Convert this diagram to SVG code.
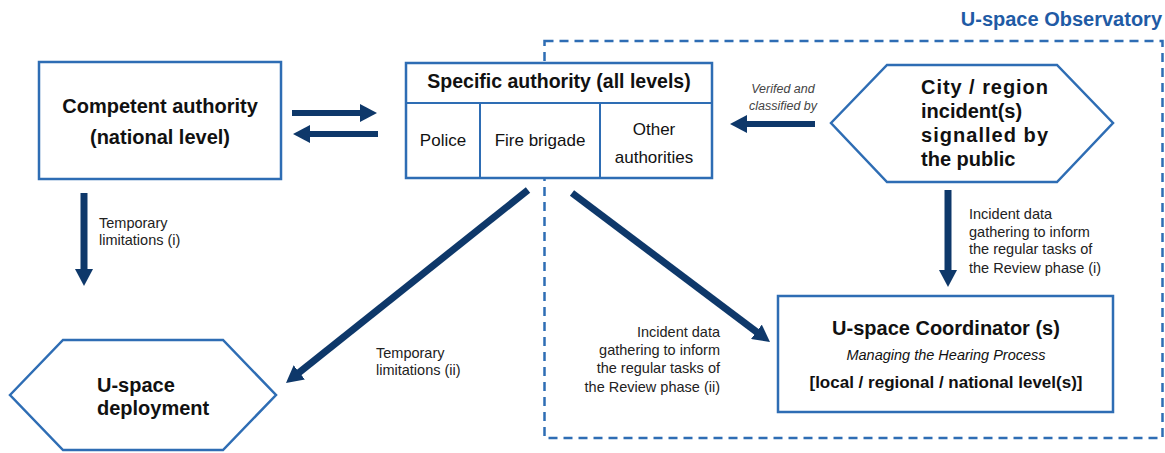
<svg xmlns="http://www.w3.org/2000/svg" width="1165" height="453" viewBox="0 0 1165 453">
<style>
.box{fill:#fff;stroke:#2E6DB4;stroke-width:2.5}
.div{stroke:#2E6DB4;stroke-width:2}
.arr{stroke:#0E386A;fill:none}
.t{font-family:"Liberation Sans",Arial,sans-serif;fill:#111}
.b{font-weight:bold}
.lbl{font-family:"Liberation Sans",Arial,sans-serif;font-size:14.5px;fill:#222}
</style>
<defs>
<marker id="ah" markerUnits="userSpaceOnUse" markerWidth="17" markerHeight="18" viewBox="0 0 17 18" refX="1" refY="9" orient="auto">
<path d="M0,0 L17,9 L0,18 z" fill="#0E386A"/>
</marker>
</defs>
<rect width="1165" height="453" fill="#fff"/>
<g id="observatory">
<rect x="544.5" y="41" width="618" height="397" fill="none" stroke="#2E6DB4" stroke-width="2.5" stroke-dasharray="9 6"/>
<text x="1162" y="26" text-anchor="end" class="t b" style="font-size:20px;fill:#1F5BA5">U-space Observatory</text>
</g>
<g id="competent-authority">
<rect x="39" y="62" width="242" height="117" class="box"/>
<text x="160" y="113" text-anchor="middle" class="t b" font-size="20">Competent authority</text>
<text x="160" y="144" text-anchor="middle" class="t b" font-size="20">(national level)</text>
</g>
<g id="specific-authority">
<rect x="406" y="63" width="306" height="115" class="box"/>
<line x1="406" y1="103" x2="712" y2="103" class="div"/>
<line x1="480" y1="103" x2="480" y2="178" class="div"/>
<line x1="600" y1="103" x2="600" y2="178" class="div"/>
<text x="559" y="88" text-anchor="middle" class="t b" font-size="19.5">Specific authority (all levels)</text>
<text x="443" y="146" text-anchor="middle" class="t" font-size="17">Police</text>
<text x="540" y="146" text-anchor="middle" class="t" font-size="17">Fire brigade</text>
<text x="654" y="135" text-anchor="middle" class="t" font-size="17">Other</text>
<text x="654" y="163" text-anchor="middle" class="t" font-size="17">authorities</text>
</g>
<g id="city-incidents">
<polygon points="831,123 887,65 1057,65 1113,123 1057,182 887,182" class="box"/>
<text x="921" y="94" class="t b" font-size="20" textLength="127" lengthAdjust="spacing">City / region</text>
<text x="921" y="118" class="t b" font-size="20">incident(s)</text>
<text x="921" y="142" class="t b" font-size="20" textLength="127" lengthAdjust="spacing">signalled by</text>
<text x="921" y="166" class="t b" font-size="20">the public</text>
</g>
<g id="uspace-deployment">
<polygon points="10,395 63,340 223,340 276,395 223,450 63,450" class="box"/>
<text x="97" y="392" class="t b" font-size="20">U-space</text>
<text x="97" y="415" class="t b" font-size="20">deployment</text>
</g>
<g id="uspace-coordinator">
<rect x="778" y="296" width="335" height="116" class="box"/>
<text x="946" y="335" text-anchor="middle" class="t b" font-size="20">U-space Coordinator (s)</text>
<text x="946" y="360" text-anchor="middle" class="t" font-size="14.5" font-style="italic">Managing the Hearing Process</text>
<text x="946" y="388" text-anchor="middle" class="t b" font-size="17">[local / regional / national level(s)]</text>
</g>
<g id="connectors">
<line x1="292" y1="113" x2="361" y2="113" class="arr" stroke-width="6" marker-end="url(#ah)"/>
<line x1="378" y1="134" x2="309" y2="134" class="arr" stroke-width="6" marker-end="url(#ah)"/>
<line x1="815" y1="124" x2="746" y2="124" class="arr" stroke-width="6" marker-end="url(#ah)"/>
<line x1="84" y1="193" x2="84" y2="270" class="arr" stroke-width="7" marker-end="url(#ah)"/>
<line x1="948" y1="190" x2="948" y2="271" class="arr" stroke-width="7" marker-end="url(#ah)"/>
<line x1="528" y1="190" x2="298.5" y2="373" class="arr" stroke-width="7" marker-end="url(#ah)"/>
<line x1="572" y1="193" x2="757.2" y2="332.4" class="arr" stroke-width="7" marker-end="url(#ah)"/>
<text x="783" y="93" text-anchor="middle" font-family="'Liberation Sans',Arial,sans-serif" font-size="12.5" font-style="italic" fill="#444">Verifed and</text>
<text x="783" y="110" text-anchor="middle" font-family="'Liberation Sans',Arial,sans-serif" font-size="12.5" font-style="italic" fill="#444">classified by</text>
<text x="99" y="228" class="lbl">Temporary</text>
<text x="99" y="245" class="lbl">limitations (i)</text>
<text x="376" y="358" class="lbl">Temporary</text>
<text x="376" y="375" class="lbl">limitations (ii)</text>
<text class="lbl" text-anchor="end"><tspan x="720" y="337">Incident data</tspan><tspan x="720" y="355">gathering to inform</tspan><tspan x="720" y="373">the regular tasks of</tspan><tspan x="720" y="392">the Review phase (ii)</tspan></text>
<text class="lbl"><tspan x="969" y="219">Incident data</tspan><tspan x="969" y="237">gathering to inform</tspan><tspan x="969" y="254">the regular tasks of</tspan><tspan x="969" y="273">the Review phase (i)</tspan></text>
</g>
</svg>
